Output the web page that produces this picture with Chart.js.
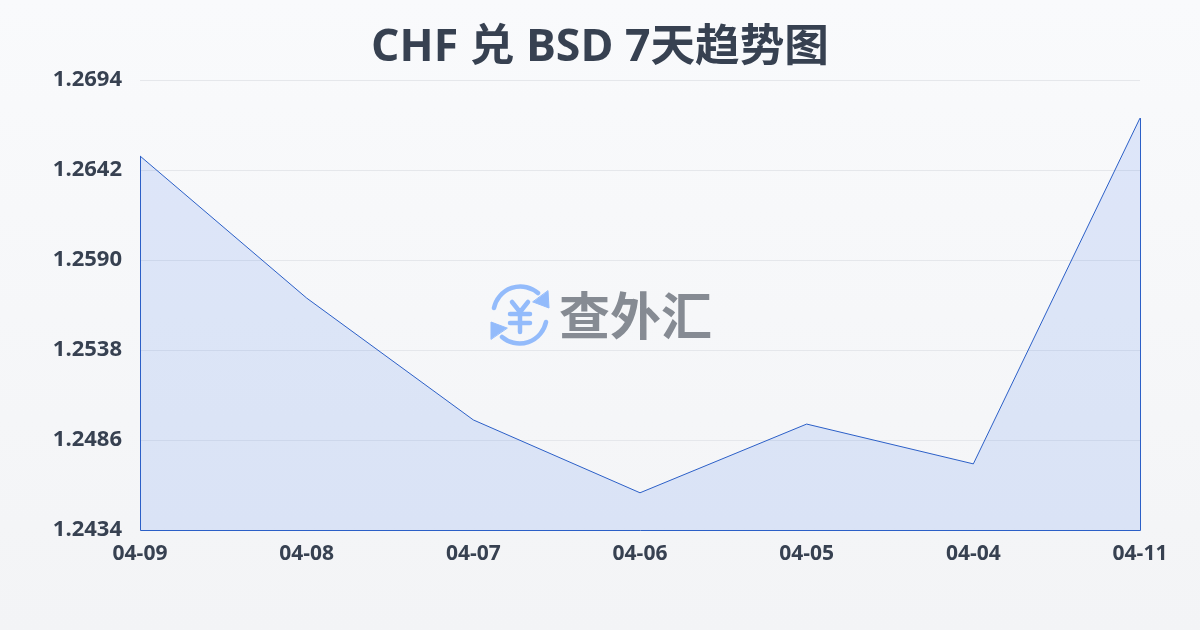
<!DOCTYPE html>
<html>
<head>
<meta charset="utf-8">
<script src="https://cdn.jsdelivr.net/npm/chart.js@4/dist/chart.umd.min.js"></script>
<style>
  html, body { margin: 0; padding: 0; }
  body { width: 1200px; height: 630px; overflow: hidden; position: relative;
         background: linear-gradient(180deg, #f9fafc 0%, #f3f4f6 100%); }
  canvas { position: absolute; left: 0; top: 0; }
  h1 { position: absolute; left: 0; top: 12px; width: 1200px; margin: 0; text-align: center;
       font: 700 44.6px/64px "Open Sans", "Noto Sans CJK SC", sans-serif; color: #374151; }
  #marca { position: absolute; left: 488px; top: 284px; width: 230px; height: 62px; }
  #marca span { position: absolute; left: 71px; top: -2px; white-space: nowrap;
       font: 700 51px/62px "Noto Sans CJK SC", sans-serif; color: #868b93; }
</style>
</head>
<body>
<canvas id="grafico" width="1200" height="630"></canvas>
<h1>CHF 兑 BSD 7天趋势图</h1>
<div id="marca">
  <svg width="66" height="62" viewBox="0 0 66 62" fill="none" stroke="#93bbfb" stroke-linecap="round" stroke-linejoin="round">
    <path d="M6 24 A27 27 0 0 1 50 9" stroke-width="4.5"/>
    <path d="M45 18 L61 24 L60 7 Z" fill="#93bbfb" stroke-width="1"/>
    <path d="M58 38 A27 27 0 0 1 14 53" stroke-width="4.5"/>
    <path d="M19 44 L3 38 L3 55 Z" fill="#93bbfb" stroke-width="1"/>
    <path d="M24 18 L32 28 L40 18 M22 30 H42 M22 39 H42 M32 28 V48" stroke-width="4.5"/>
  </svg>
  <span>查外汇</span>
</div>
<script>
const categorias = ['04-09', '04-08', '04-07', '04-06', '04-05', '04-04', '04-11'];
const valores = [1.26501, 1.25680, 1.24976, 1.24555, 1.24952, 1.24722, 1.26720];
const ticksY = [1.2434, 1.2486, 1.2538, 1.2590, 1.2642, 1.2694];

const corLinha = '#2b5fc7';
const corTexto = '#374151';

// Fecha a área com a mesma cor da linha (laterais e base)
const bordaArea = {
  id: 'bordaArea',
  afterDatasetsDraw(chart) {
    const { ctx, scales: { x, y } } = chart;
    const base = y.getPixelForValue(ticksY[0]) + 0.5;
    const ultimo = valores.length - 1;
    ctx.save();
    ctx.strokeStyle = corLinha;
    ctx.lineWidth = 1;
    ctx.beginPath();
    ctx.moveTo(x.getPixelForValue(0) + 0.5, y.getPixelForValue(valores[0]));
    ctx.lineTo(x.getPixelForValue(0) + 0.5, base);
    ctx.lineTo(x.getPixelForValue(ultimo) + 0.5, base);
    ctx.lineTo(x.getPixelForValue(ultimo) + 0.5, y.getPixelForValue(valores[ultimo]));
    ctx.stroke();
    ctx.restore();
  }
};

new Chart(document.getElementById('grafico').getContext('2d'), {
  type: 'line',
  plugins: [bordaArea],
  data: {
    labels: categorias,
    datasets: [{
      data: valores,
      borderColor: corLinha,
      borderWidth: 1,
      backgroundColor: 'rgba(37, 99, 235, 0.12)',
      fill: 'start',
      tension: 0,
      pointRadius: 0
    }]
  },
  options: {
    responsive: false,
    animation: false,
    layout: { padding: { top: 80, right: 60, bottom: 0, left: 0 } },
    plugins: { legend: { display: false }, tooltip: { enabled: false } },
    scales: {
      x: {
        offset: false,
        afterFit(scale) { scale.height = 100; },
        grid: { display: false },
        border: { display: false },
        ticks: {
          padding: 3,
          maxRotation: 0,
          autoSkip: false,
          color: corTexto,
          font: { family: '"Open Sans", sans-serif', size: 21, weight: '700' }
        }
      },
      y: {
        min: ticksY[0],
        max: ticksY[ticksY.length - 1],
        afterFit(scale) { scale.width = 140; },
        afterBuildTicks(scale) { scale.ticks = ticksY.map(v => ({ value: v })); },
        grid: { color: '#e5e7eb', lineWidth: 1, drawTicks: false },
        border: { display: false },
        ticks: {
          padding: 18,
          color: corTexto,
          font: { family: '"Open Sans", sans-serif', size: 22, weight: '700' },
          callback: v => v.toFixed(4)
        }
      }
    }
  }
});
</script>
</body>
</html>
